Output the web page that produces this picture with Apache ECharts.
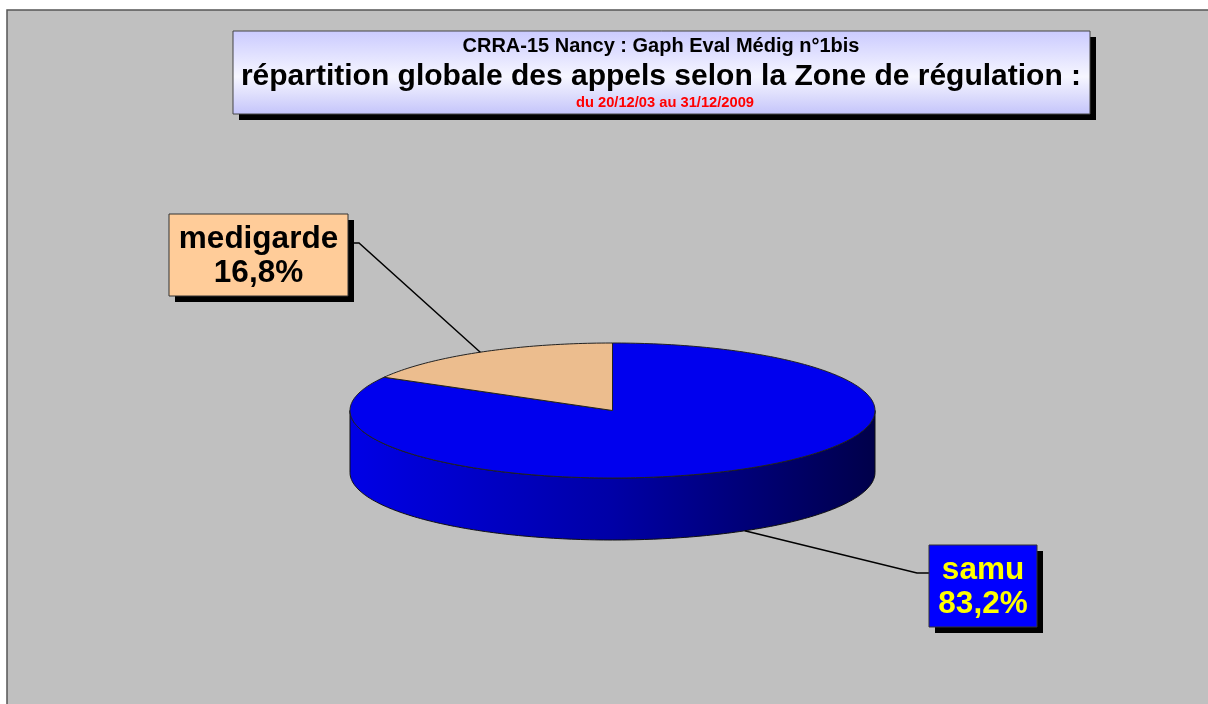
<!DOCTYPE html>
<html>
<head>
<meta charset="utf-8">
<title>CRRA-15 Nancy</title>
<script src="https://cdn.jsdelivr.net/npm/echarts@6/dist/echarts.min.js"></script>
<style>
    html, body {margin: 0; padding: 0; background: #fff;}
    #main {width: 1208px; height: 704px;}
</style>
</head>
<body>
<div id="main"></div>
<script>
// données
let zones = ['samu', 'medigarde'];
let parts = [83.2, 16.8];
let titleLines = ['CRRA-15 Nancy : Gaph Eval Médig n°1bis',
    'répartition globale des appels selon la Zone de régulation :',
    'du 20/12/03 au 31/12/2009'];

// couleurs
let topColors = ['#0000ee', '#ecbd8e'];
let boxColors = ['#0000ff', '#ffcc99'];
let textColors = ['#ffff00', '#000000'];

// géométrie du camembert
let cx = 612.5, cy = 410.5, rx = 262.5, ry = 67.5, depth = 62;
let labelLayout = [
    {x: 929, y: 545, w: 108, h: 82, elbow: [917, 573], edge: [929, 573]},
    {x: 169, y: 214, w: 179, h: 82, elbow: [359, 243], edge: [348, 243]}
];
let FONT = '"Liberation Sans", Arial, sans-serif';

function pt(deg, dy) {
    let r = deg * Math.PI / 180;
    return [cx + rx * Math.cos(r), cy - ry * Math.sin(r) + (dy || 0)];
}

function arc(from, to, dy) {
    let pts = [];
    let step = from > to ? -1 : 1;
    for (let t = from; step < 0 ? t > to : t < to; t += step) pts.push(pt(t, dy));
    pts.push(pt(to, dy));
    return pts;
}

let sideGradient = {
    type: 'linear', x: cx - rx, y: 0, x2: cx + rx, y2: 0, global: true,
    colorStops: [{offset: 0, color: '#0000e6'}, {offset: 0.5, color: '#0000a6'}, {offset: 1, color: '#00004a'}]
};

function renderSlice(params, api) {
    let i = params.dataIndex;
    let total = parts.reduce((a, b) => a + b, 0);
    let before = 0;
    for (let k = 0; k < i; k++) before += parts[k];
    let a0 = 90 - before / total * 360;
    let a1 = a0 - api.value(0) / total * 360;
    let children = [];
    // côté visible (moitié avant)
    for (let k = -2; k <= 1; k++) {
        let lo = Math.max(a1, -180 + 360 * k);
        let hi = Math.min(a0, 360 * k);
        if (hi > lo) {
            let pts = arc(hi, lo, 0).concat(arc(lo, hi, depth));
            children.push({
                type: 'polygon', shape: {points: pts},
                style: {fill: sideGradient, stroke: '#111', lineWidth: 1}
            });
        }
    }
    // dessus
    let top = [[cx, cy]].concat(arc(a0, a1, 0));
    children.push({
        type: 'polygon', shape: {points: top},
        style: {fill: topColors[i], stroke: '#222', lineWidth: 1}
    });
    // ligne de rappel
    let mid = (a0 + a1) / 2;
    let m = pt(mid, Math.sin(mid * Math.PI / 180) < 0 ? depth : 0);
    let lay = labelLayout[i];
    children.push({
        type: 'polyline', shape: {points: [m, lay.elbow, lay.edge]},
        style: {stroke: '#000', lineWidth: 1.5, fill: null}
    });
    // étiquette
    let pct = (api.value(0) / total * 100).toFixed(1).replace('.', ',') + '%';
    children.push({
        type: 'rect', shape: {x: lay.x + 6, y: lay.y + 6, width: lay.w, height: lay.h},
        style: {fill: '#000'}
    });
    children.push({
        type: 'rect', shape: {x: lay.x, y: lay.y, width: lay.w, height: lay.h},
        style: {fill: boxColors[i], stroke: '#333', lineWidth: 1}
    });
    children.push({
        type: 'text',
        style: {
            text: zones[i] + '\n' + pct, x: lay.x + lay.w / 2, y: lay.y + lay.h / 2 + 1,
            align: 'center', verticalAlign: 'middle', lineHeight: 34,
            font: 'bold 31.5px ' + FONT, fill: textColors[i]
        }
    });
    return {type: 'group', children: children};
}

let myChart = echarts.init(document.getElementById('main'), null, {renderer: 'canvas'});
let option = {
    animation: false,
    backgroundColor: '#ffffff',
    graphic: [
        {
            type: 'rect', z: -10, shape: {x: 7, y: 10, width: 1210, height: 700},
            style: {fill: '#c0c0c0', stroke: '#555', lineWidth: 1.5}
        },
        {
            type: 'group', children: [
                {type: 'rect', shape: {x: 239, y: 37, width: 857, height: 83}, style: {fill: '#000'}},
                {
                    type: 'rect', shape: {x: 233, y: 31, width: 857, height: 83},
                    style: {
                        stroke: '#444', lineWidth: 1,
                        fill: {
                            type: 'linear', x: 0, y: 0, x2: 0, y2: 1,
                            colorStops: [{offset: 0, color: '#cacaff'}, {offset: 0.55, color: '#f6f6ff'}, {offset: 1, color: '#c4c4fa'}]
                        }
                    }
                },
                {type: 'text', style: {text: titleLines[0], x: 661, y: 46.5, align: 'center', verticalAlign: 'middle', font: 'bold 20px ' + FONT, fill: '#000'}},
                {type: 'text', style: {text: titleLines[1], x: 661, y: 77, align: 'center', verticalAlign: 'middle', font: 'bold 30px ' + FONT, fill: '#000'}},
                {type: 'text', style: {text: titleLines[2], x: 665, y: 102.5, align: 'center', verticalAlign: 'middle', font: 'bold 14.7px ' + FONT, fill: '#ff0000'}}
            ]
        }
    ],
    series: [{
        type: 'custom',
        coordinateSystem: 'none',
        renderItem: renderSlice,
        data: parts.map((v, i) => ({name: zones[i], value: v}))
    }]
};
myChart.setOption(option);
</script>
</body>
</html>
